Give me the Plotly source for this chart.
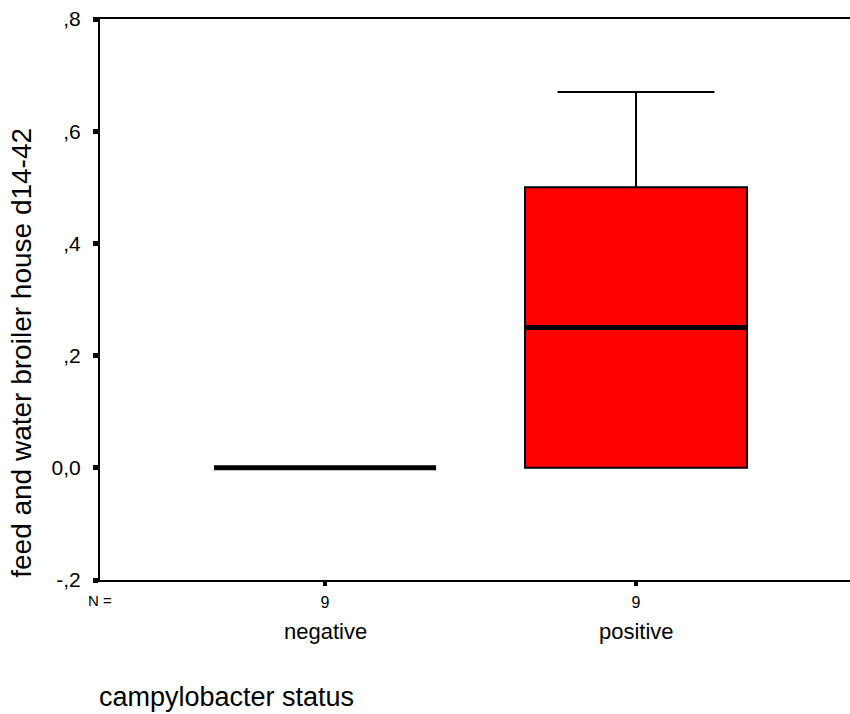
import plotly.graph_objects as go

# ---- data ----
categories = ["negative", "positive"]
n_counts = [9, 9]
q1 = [0.0, 0.0]
median = [0.0, 0.25]
q3 = [0.0, 0.50]
lower_whisker = [0.0, 0.0]
upper_whisker = [0.0, 0.67]
y_ticks = [-0.2, 0.0, 0.2, 0.4, 0.6, 0.8]
box_colors = ["#FF0000", "#FF0000"]


def spss_label(v):
    s = f"{v:.1f}".replace(".", ",")
    if s.startswith("0,") and v != 0:
        s = s[1:]
    if s.startswith("-0,"):
        s = "-" + s[2:]
    return s


y_ticktext = [spss_label(v) for v in y_ticks]

FONT = "Liberation Sans, Arial, sans-serif"
BOX_W = 0.714

fig = go.Figure()
xpos = list(range(len(categories)))
for i, cat in enumerate(categories):
    fig.add_trace(go.Box(
        x=[xpos[i]], q1=[q1[i]], median=[median[i]], q3=[q3[i]],
        lowerfence=[lower_whisker[i]], upperfence=[upper_whisker[i]],
        name=cat, width=BOX_W, whiskerwidth=0.707,
        fillcolor=box_colors[i], line=dict(color="black", width=2),
        boxpoints=False, showlegend=False, hoverinfo="skip",
    ))
    # thick median line
    fig.add_trace(go.Scatter(
        x=[xpos[i] - BOX_W / 2, xpos[i] + BOX_W / 2],
        y=[median[i], median[i]], mode="lines",
        line=dict(color="black", width=5), showlegend=False, hoverinfo="skip",
    ))

annotations = []
for i, cat in enumerate(categories):
    annotations.append(dict(
        x=xpos[i], xref="x", y=0, yref="paper", yanchor="middle", yshift=-51,
        text=cat, showarrow=False, font=dict(family=FONT, size=22, color="black"),
    ))
annotations.append(dict(
    x=0, xref="paper", y=0, yref="paper", yanchor="middle", xanchor="center",
    yshift=-20, text="N =", showarrow=False,
    font=dict(family=FONT, size=15, color="black"),
))
annotations.append(dict(
    x=0, xref="paper", xshift=-3, xanchor="left", y=0, yref="paper",
    yanchor="middle", yshift=-117, text="campylobacter status", showarrow=False,
    font=dict(family=FONT, size=27, color="black"),
))
annotations.append(dict(
    x=0, xref="paper", xshift=-78, xanchor="center", y=0.405, yref="paper",
    yanchor="middle", textangle=-90, text="feed and water broiler house d14-42",
    showarrow=False, font=dict(family=FONT, size=28, color="black"),
))

fig.update_layout(
    width=850, height=714,
    margin=dict(l=100, r=0, t=19, b=134),
    paper_bgcolor="white", plot_bgcolor="white",
    showlegend=False,
    annotations=annotations,
    xaxis=dict(
        range=[-0.7235, 1.688], tickvals=xpos,
        ticktext=[str(n) for n in n_counts],
        tickfont=dict(family=FONT, size=16, color="black"),
        ticks="outside", ticklen=4, tickwidth=4, tickcolor="black",
        showline=True, linecolor="black", linewidth=2, mirror=True,
        showgrid=False, zeroline=False, ticklabelstandoff=3,
    ),
    yaxis=dict(
        range=[-0.2, 0.8], tickvals=y_ticks, ticktext=y_ticktext,
        tickfont=dict(family=FONT, size=21, color="black"),
        ticks="outside", ticklen=5, tickwidth=5, tickcolor="black",
        showline=True, linecolor="black", linewidth=2, mirror=False,
        showgrid=False, zeroline=False, ticklabelstandoff=8,
    ),
)

fig.write_html(
    "out.html",
    config={"displayModeBar": False},
    post_script="document.body.style.margin='0';document.body.style.overflow='hidden';",
)
